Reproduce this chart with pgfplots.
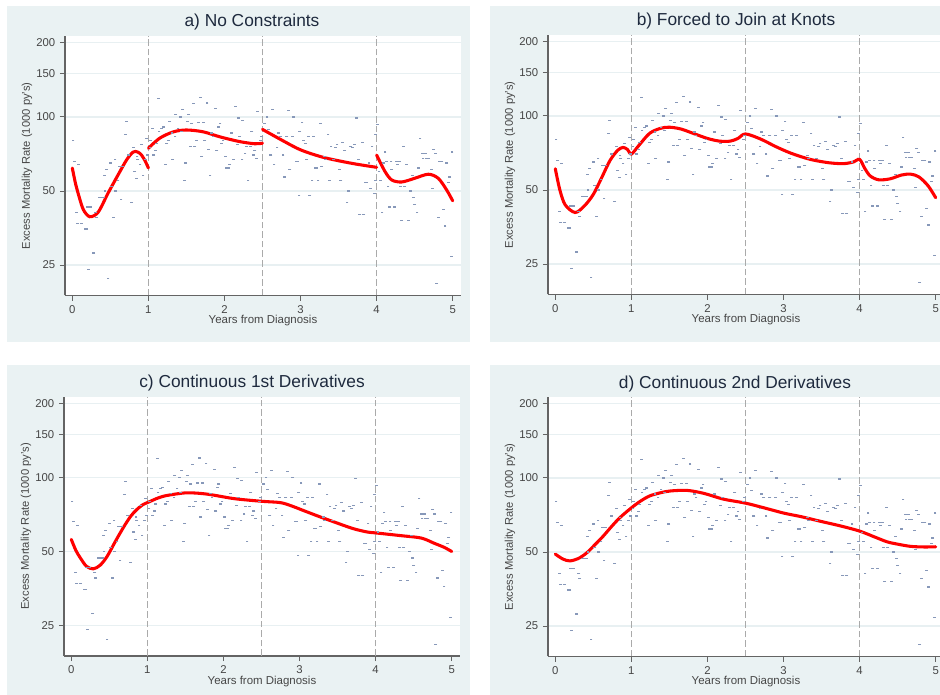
\documentclass[border=0pt]{standalone}
\usepackage{fontspec}
\setmainfont{Liberation Sans}
\usepackage{pgfplots}
\usepackage{pgfplotstable}
\pgfplotsset{compat=1.18}
\definecolor{panelbg}{RGB}{234,242,243}
\definecolor{axisgray}{RGB}{100,100,100}
\definecolor{ticktext}{RGB}{70,70,70}
\definecolor{gridc}{RGB}{232,240,242}
\definecolor{titlec}{RGB}{30,42,62}
\definecolor{scatc}{RGB}{135,152,185}
\definecolor{knotc}{RGB}{170,170,170}

\pgfplotstableread{
x y
0.01 80
0.03 66
0.05 41
0.07 37
0.08 64
0.12 37
0.17 35
0.19 35
0.20 43
0.21 24
0.24 43
0.28 28
0.31 41
0.32 39
0.36 47
0.39 47
0.41 47
0.42 58
0.43 50
0.45 61
0.47 22
0.50 65
0.52 52
0.54 39
0.56 67
0.57 50
0.60 55
0.62 63
0.64 46
0.66 63
0.70 85
0.71 96
0.74 70
0.78 45
0.80 75
0.82 60
0.84 56
0.85 69
0.86 67
0.89 64
0.91 77
0.93 58
0.96 67
0.98 82
0.99 70
1.02 75
1.03 80
1.05 90
1.07 70
1.09 73
1.11 78
1.13 119
1.14 87
1.17 90
1.20 91
1.22 64
1.24 78
1.26 80
1.28 96
1.31 86
1.32 67
1.35 83
1.36 102
1.39 90
1.42 100
1.44 87
1.45 107
1.47 55
1.49 65
1.51 96
1.53 102
1.55 76
1.57 94
1.59 113
1.61 76
1.63 80
1.66 95
1.68 120
1.70 69
1.72 95
1.74 80
1.77 114
1.79 74
1.81 58
1.83 86
1.85 83
1.88 108
1.90 73
1.92 91
1.94 94
1.96 78
1.98 80
2.01 69
2.03 62
2.05 62
2.07 64
2.09 86
2.12 67
2.14 110
2.17 77
2.18 99
2.20 83
2.23 67
2.24 97
2.27 71
2.29 76
2.31 55
2.34 76
2.36 87
2.38 70
2.40 73
2.42 68
2.43 105
2.47 80
2.49 83
2.53 94
2.56 100
2.58 89
2.61 70
2.63 107
2.65 64
2.69 75
2.71 86
2.74 83
2.77 70
2.79 57
2.82 83
2.84 106
2.86 61
2.89 83
2.91 100
2.94 66
2.96 66
2.98 48
2.99 87
3.02 95
3.04 80
3.06 78
3.08 67
3.10 83
3.12 48
3.15 55
3.17 83
3.19 62
3.21 62
3.23 55
3.26 94
3.28 63
3.31 69
3.33 67
3.36 85
3.38 55
3.40 76
3.43 67
3.46 75
3.48 77
3.51 61
3.53 55
3.55 79
3.58 73
3.61 45
3.63 50
3.66 76
3.68 75
3.71 77
3.74 99
3.76 67
3.78 40
3.81 79
3.83 40
3.85 54
3.87 54
3.90 65
3.92 51
3.94 76
3.97 49
3.98 85
3.99 55
4.01 93
4.03 60
4.05 55
4.07 41
4.09 65
4.11 72
4.13 66
4.15 52
4.17 43
4.19 66
4.20 61
4.23 43
4.26 66
4.27 64
4.30 66
4.31 52
4.33 38
4.35 76
4.37 52
4.39 64
4.42 38
4.44 50
4.47 58
4.48 47
4.50 44
4.53 41
4.55 62
4.57 82
4.60 71
4.61 68
4.64 71
4.66 68
4.68 68
4.72 61
4.73 51
4.75 74
4.77 71
4.79 21
4.81 39
4.83 66
4.86 66
4.88 42
4.90 36
4.92 65
4.94 54
4.96 57
4.98 27
4.99 72
}\scat

\pgfplotsset{
  every axis/.append style={
    scale only axis, width=297pt, height=194.5pt,
    xmin=-0.096, xmax=5.109,
    ymin=18.8, ymax=213,
    ytick={25,50,100,150,200}, yticklabels={25,50,100,150,200},
    xtick={0,1,2,3,4,5}, xticklabels={0,1,2,3,4,5},
    axis x line*=bottom, axis y line*=left,
    axis line style={draw=axisgray, line width=0.9pt},
    tick style={draw=axisgray, line width=0.7pt},
    major tick length=3.8pt, tick align=outside,
    ymajorgrids, grid style={draw=gridc, line width=0.9pt},
    tick label style={font=\fontsize{8.5}{10}\selectfont, text=ticktext},
    /pgf/number format/assume math mode=true,
  },
  every axis x label/.style={at={(axis description cs:0.5,0)}, yshift=-19pt, anchor=center, font=\fontsize{8.6}{10}\selectfont, text=ticktext},
  every axis y label/.style={at={(axis description cs:0,0.5)}, xshift=-28.5pt, rotate=90, anchor=center, font=\fontsize{8.4}{10}\selectfont, text=ticktext},
}

\begin{document}
\begin{tikzpicture}[x=0.75pt,y=0.75pt]
\useasboundingbox (0,0) rectangle (940,694);
\clip (0,0) rectangle (940,694);
\fill[white] (0,0) rectangle (940,694);
\fill[panelbg] (7,688) rectangle (470,352);
\fill[panelbg] (490,688) rectangle (960,352);
\fill[panelbg] (7,329) rectangle (470,-10);
\fill[panelbg] (490,329) rectangle (960,-10);

\node[text=titlec, font=\fontsize{13}{15}\selectfont] at (252,672) {a) No Constraints};
\node[text=titlec, font=\fontsize{13}{15}\selectfont] at (736,673) {b) Forced to Join at Knots};
\node[text=titlec, font=\fontsize{13}{15}\selectfont] at (252,310.5) {c) Continuous 1st Derivatives};
\node[text=titlec, font=\fontsize{13}{15}\selectfont] at (735,309.5) {d) Continuous 2nd Derivatives};

% panel a
\begin{axis}[ymode=log, axis background/.style={fill=white}, at={(48.75pt,298.875pt)}, anchor=south west,
  xlabel={Years from Diagnosis}, ylabel={Excess Mortality Rate (1000 py's)}]
\addplot[draw=knotc, line width=1pt, dash pattern=on 5pt off 2.2pt, forget plot] coordinates {(1,18.8) (1,213)};
\addplot[draw=knotc, line width=1pt, dash pattern=on 5pt off 2.2pt, forget plot] coordinates {(2.5,18.8) (2.5,213)};
\addplot[draw=knotc, line width=1pt, dash pattern=on 5pt off 2.2pt, forget plot] coordinates {(4,18.8) (4,213)};
\addplot[only marks, mark=-, mark size=1.05pt, mark options={draw=scatc, line width=0.9pt}] table {\scat};
\addplot[draw=red, line width=2.3pt, smooth, tension=0.5, line cap=round] coordinates {(0,62) (0.04,54) (0.08,48.5) (0.145,42) (0.23,39.3) (0.34,41) (0.47,49) (0.6,58) (0.715,67) (0.8,72) (0.86,72) (0.91,70) (0.96,66) (1.0,62)};
\addplot[draw=red, line width=2.3pt, smooth, tension=0.5, line cap=round] coordinates {(1,74.6) (1.15,82) (1.33,87) (1.5,88.5) (1.72,87) (1.94,83) (2.2,79.4) (2.4,77.8) (2.5,78.2)};
\addplot[draw=red, line width=2.3pt, smooth, tension=0.5, line cap=round] coordinates {(2.5,89) (2.75,80.6) (3.0,73.5) (3.3,68.5) (3.67,64.8) (4.0,62.4)};
\addplot[draw=red, line width=2.3pt, smooth, tension=0.5, line cap=round] coordinates {(4.0,70) (4.11,60) (4.2,55.4) (4.33,54.4) (4.5,56.3) (4.68,58.5) (4.81,56.3) (4.92,50.5) (5.0,45.6)};
\end{axis}

% panel b
\begin{axis}[ymode=log, axis background/.style={fill=white}, at={(411pt,299.625pt)}, anchor=south west,
  xlabel={Years from Diagnosis}, ylabel={Excess Mortality Rate (1000 py's)}]
\addplot[draw=knotc, line width=1pt, dash pattern=on 5pt off 2.2pt, forget plot] coordinates {(1,18.8) (1,213)};
\addplot[draw=knotc, line width=1pt, dash pattern=on 5pt off 2.2pt, forget plot] coordinates {(2.5,18.8) (2.5,213)};
\addplot[draw=knotc, line width=1pt, dash pattern=on 5pt off 2.2pt, forget plot] coordinates {(4,18.8) (4,213)};
\addplot[only marks, mark=-, mark size=1.05pt, mark options={draw=scatc, line width=0.9pt}] table {\scat};
\addplot[draw=red, line width=2.3pt, smooth, tension=0.5, line cap=round] coordinates {(0,61) (0.06,50) (0.13,43.5) (0.26,40.5) (0.38,43) (0.5,48) (0.62,57) (0.72,66) (0.82,72.5) (0.89,74.5) (0.95,73) (1.0,70) (1.1,76) (1.24,85) (1.38,89) (1.5,90) (1.65,88.5) (1.81,85) (2.0,81) (2.16,79) (2.3,79) (2.4,81) (2.5,84.5) (2.7,80.5) (2.9,75) (3.1,70.5) (3.35,66.6) (3.6,64.5) (3.79,64) (3.92,65) (4.0,66.6) (4.07,61) (4.14,57) (4.25,55) (4.4,55.5) (4.55,57.5) (4.67,58) (4.78,56.5) (4.9,52) (5.0,46.5)};
\end{axis}

% panel c
\begin{axis}[ymode=log, axis background/.style={fill=white}, at={(48pt,28.5pt)}, anchor=south west,
  xlabel={Years from Diagnosis}, ylabel={Excess Mortality Rate (1000 py's)}]
\addplot[draw=knotc, line width=1pt, dash pattern=on 5pt off 2.2pt, forget plot] coordinates {(1,18.8) (1,213)};
\addplot[draw=knotc, line width=1pt, dash pattern=on 5pt off 2.2pt, forget plot] coordinates {(2.5,18.8) (2.5,213)};
\addplot[draw=knotc, line width=1pt, dash pattern=on 5pt off 2.2pt, forget plot] coordinates {(4,18.8) (4,213)};
\addplot[only marks, mark=-, mark size=1.05pt, mark options={draw=scatc, line width=0.9pt}] table {\scat};
\addplot[draw=red, line width=2.3pt, smooth, tension=0.5, line cap=round] coordinates {(0,56) (0.06,50.5) (0.12,47) (0.2,43.5) (0.29,42.5) (0.38,44) (0.47,47.7) (0.58,55) (0.69,63) (0.78,69.5) (0.86,74) (0.94,77.5) (1.02,79.5) (1.14,82.5) (1.26,84.5) (1.52,86.6) (1.79,85.5) (2.14,82) (2.5,80) (2.75,79) (2.9,76.5) (3.02,74) (3.25,69.5) (3.45,66) (3.7,62) (3.89,60) (4.0,59.5) (4.33,58) (4.6,56.7) (4.77,54) (4.9,52) (5.0,50)};
\end{axis}

% panel d
\begin{axis}[ymode=log, axis background/.style={fill=white}, at={(411pt,28.125pt)}, anchor=south west,
  xlabel={Years from Diagnosis}, ylabel={Excess Mortality Rate (1000 py's)}]
\addplot[draw=knotc, line width=1pt, dash pattern=on 5pt off 2.2pt, forget plot] coordinates {(1,18.8) (1,213)};
\addplot[draw=knotc, line width=1pt, dash pattern=on 5pt off 2.2pt, forget plot] coordinates {(2.5,18.8) (2.5,213)};
\addplot[draw=knotc, line width=1pt, dash pattern=on 5pt off 2.2pt, forget plot] coordinates {(4,18.8) (4,213)};
\addplot[only marks, mark=-, mark size=1.05pt, mark options={draw=scatc, line width=0.9pt}] table {\scat};
\addplot[draw=red, line width=2.3pt, smooth, tension=0.5, line cap=round] coordinates {(0,49) (0.1,46.8) (0.19,46) (0.3,47) (0.41,49.5) (0.52,53.5) (0.63,58) (0.74,63.5) (0.85,69) (1.0,75.6) (1.12,80.5) (1.24,84.5) (1.38,87) (1.51,88.5) (1.73,89) (1.95,86.6) (2.21,82) (2.5,79) (2.75,75.5) (3.0,72) (3.24,69.5) (3.48,66.7) (3.75,63.8) (4.0,60.8) (4.2,57.5) (4.36,55) (4.5,53.8) (4.67,52.7) (4.85,52.4) (5.0,52.5)};
\end{axis}
\end{tikzpicture}
\end{document}
